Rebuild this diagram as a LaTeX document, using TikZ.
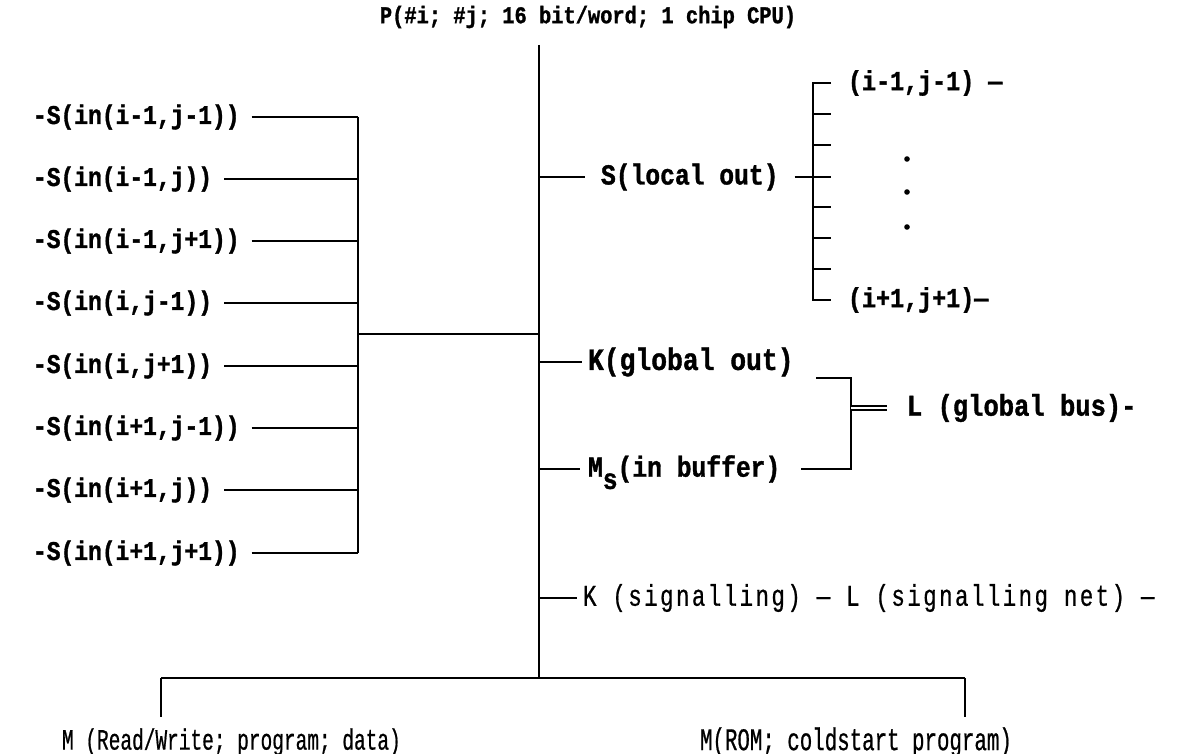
\documentclass[tikz,border=0pt]{standalone}
\usepackage{fontspec}
\newfontfamily\twfont{Liberation Mono}[FakeStretch=0.85,FakeBold=1.2]
\newfontfamily\twcfont{Liberation Mono}[FakeStretch=0.66,FakeBold=0.6]
\newfontfamily\twsfont{Liberation Mono}[FakeStretch=0.75,FakeBold=0.6]
\newcommand\myfs[1]{\fontsize{#1}{#1}\selectfont}
\begin{document}
\begin{tikzpicture}[x=1pt,y=-1pt,line width=2pt,
  every node/.style={inner sep=0pt,outer sep=0pt},
  titlelbl/.style={font=\twfont\bfseries\myfs{24}},
  leftlbl/.style={anchor=west,font=\twfont\bfseries\myfs{27}},
  rightlbl/.style={anchor=west,font=\twfont\bfseries\myfs{29}},
  condlbl/.style={anchor=west,font=\twcfont\myfs{29.5}},
  siglbl/.style={anchor=west,font=\twsfont\myfs{30}\addfontfeature{LetterSpace=8}},
  dbl/.style={double,double distance=2.4pt,line width=1.5pt}]
\useasboundingbox (0,0) rectangle (1185,754);

% title and main bus
\node[titlelbl] (title) at (588,17) {P(\#i; \#j; 16 bit/word; 1 chip CPU)};
\coordinate (ptop) at (539,45);
\coordinate (pbot) at (539,678);
\draw (ptop) -- (pbot);

% left inputs
\coordinate (lbus) at (358,0);
\node[leftlbl] (s1) at (33,117) {-S(in(i-1,j-1))};
\node[leftlbl] (s2) at (33,179) {-S(in(i-1,j))};
\node[leftlbl] (s3) at (33,241) {-S(in(i-1,j+1))};
\node[leftlbl] (s4) at (33,303) {-S(in(i,j-1))};
\node[leftlbl] (s5) at (33,366) {-S(in(i,j+1))};
\node[leftlbl] (s6) at (33,428) {-S(in(i+1,j-1))};
\node[leftlbl] (s7) at (33,490) {-S(in(i+1,j))};
\node[leftlbl] (s8) at (33,553) {-S(in(i+1,j+1))};
\foreach \n in {s1,s2,s3,s4,s5,s6,s7,s8}
  \draw ([xshift=12pt]\n.east) -- (\n.east -| lbus);
\draw (s1.east -| lbus) -- (s8.east -| lbus);
\coordinate (lj) at (358,334);
\draw (lj) -- (lj -| ptop);

% S(local out) and comb
\node[rightlbl] (slo) at (601,177) {S(local out)};
\draw (slo.west -| ptop) -- ([xshift=-16pt]slo.west);
\coordinate (ctop) at (813,83);
\coordinate (cbot) at (813,300);
\coordinate (tend) at (831,0);
\draw ([xshift=16pt]slo.east) -- (slo.east -| tend);
\draw (ctop -| tend) -- (ctop) -- (cbot) -- (cbot -| tend);
\foreach \k in {1,2,4,5,6}
  \draw (813,83+31*\k) -- (831,83+31*\k);
\node[rightlbl,font=\twfont\bfseries\myfs{27.5}] (c1) at (848,83) {(i-1,j-1) —};
\node[rightlbl,font=\twfont\bfseries\myfs{27.5}] (c8) at (848,300) {(i+1,j+1)—};
\fill (907,159) circle (2.8pt);
\fill (907,192) circle (2.8pt);
\fill (907,227) circle (2.8pt);

% global out / in buffer / global bus
\node[rightlbl,font=\twfont\bfseries\myfs{31}] (kgo) at (588,362) {K(global out)};
\draw (kgo.west -| ptop) -- ([xshift=-6pt]kgo.west);
\node[rightlbl] (ms) at (588,469) {M\smash{\raisebox{-0.42em}{s}}(in buffer)};
\draw (ms.west -| ptop) -- ([xshift=-8pt]ms.west);
\coordinate (bj) at (851,408);
\coordinate (bt) at (851,378);
\draw (816,378) -- (bt) -- (bj);
\draw ([xshift=21pt]ms.east) -- (ms.east -| bj) -- (bj);
\node[rightlbl,font=\twfont\bfseries\myfs{30}] (lgb) at (907,408) {L (global bus)-};
\draw[dbl] (bj) -- ([xshift=-20pt]lgb.west);

% signalling
\node[siglbl] (sig) at (583,598) {K (signalling) — L (signalling net) —};
\draw (sig.west -| ptop) -- ([xshift=-6pt]sig.west);

% memories
\coordinate (bl) at (161,678);
\coordinate (br) at (965,678);
\coordinate (bld) at (161,717);
\coordinate (brd) at (965,717);
\draw (bl) -- (br);
\draw (bl) -- (bld);
\draw (br) -- (brd);
\node[condlbl] (mrw) at (62,742) {M (Read/Write; program; data)};
\node[condlbl,font=\twcfont\myfs{31.5}] (mrom) at (700,742) {M(ROM; coldstart program)};
\end{tikzpicture}
\end{document}
